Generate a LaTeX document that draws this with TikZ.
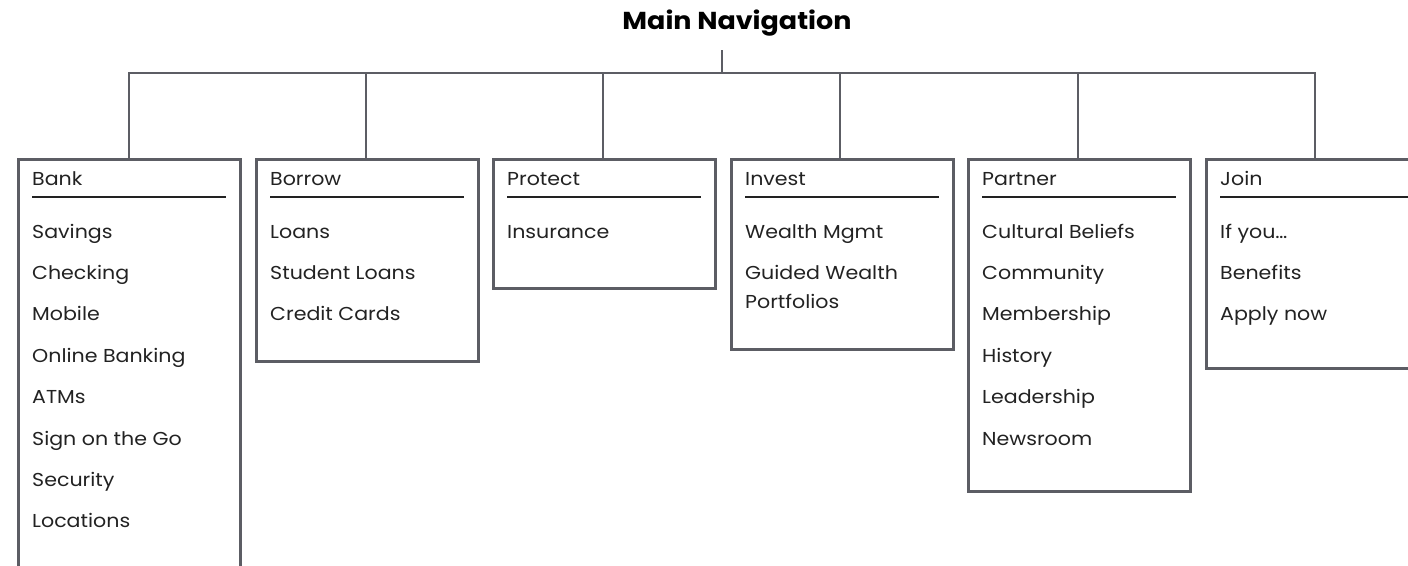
\documentclass[tikz,border=0pt]{standalone}
\usepackage{fontspec}
\setmainfont[FakeStretch=1.1]{Poppins}
\definecolor{linegray}{RGB}{92,93,100}
\definecolor{txt}{RGB}{34,34,34}
\tikzset{
  conn/.style={draw=linegray,line width=2.8pt},
  menubox/.style={draw=linegray,line width=2.8pt,rectangle,minimum width=222pt,anchor=north west,inner sep=0pt},
  head/.style={anchor=base west,inner sep=0pt,font=\fontsize{18.7}{21}\selectfont,text=txt},
  item/.style={anchor=base west,inner sep=0pt,font=\fontsize{18.7}{21}\selectfont,text=txt},
  hrule/.style={draw=txt,line width=1.4pt},
  title/.style={inner sep=0pt,font=\fontsize{24.5}{28}\selectfont\bfseries,text=black}
}
\newcommand\menucol[5]{%
  \node[menubox,minimum height=#4pt] (#1) at (#2,158) {};
  \node[head] (#1-head) at (#2+15,185) {#3};
  \draw[hrule] (#2+15,197) -- (#2+209,197);
  \foreach \t [count=\i] in {#5} {\node[item] (#1-\i) at (#2+15,{238+41.4*(\i-1)}) {\t};}
}
\begin{document}
\begin{tikzpicture}[x=1pt,y=-1pt]
\useasboundingbox (0,0) rectangle (1408,565);
\clip (0,0) rectangle (1408,565);
\node[title] (title) at (737,23) {Main Navigation};
\coordinate (stemtop) at (722,50);
\coordinate (hub) at (722,73);
\coordinate (barbank) at (129,73);
\coordinate (barborrow) at (366,73);
\coordinate (barprotect) at (603,73);
\coordinate (barinvest) at (840,73);
\coordinate (barpartner) at (1078,73);
\coordinate (barjoin) at (1315,73);
\menucol{bank}{17}{Bank}{700}{Savings,Checking,Mobile,Online Banking,ATMs,Sign on the Go,Security,Locations}
\menucol{borrow}{255}{Borrow}{202}{Loans,Student Loans,Credit Cards}
\menucol{protect}{492}{Protect}{129}{Insurance}
\menucol{invest}{730}{Invest}{190}{Wealth Mgmt,Guided Wealth}
\node[item] (invest-3) at (745,{238+41.4+29}) {Portfolios};
\menucol{partner}{967}{Partner}{332}{Cultural Beliefs,Community,Membership,History,Leadership,Newsroom}
\menucol{join}{1205}{Join}{209}{If you…,Benefits,Apply now}
\draw[conn] (stemtop) -- (hub);
\draw[conn,line cap=rect] (barbank) -- (barjoin);
\foreach \n in {bank,borrow,protect,invest,partner,join}
  \draw[conn] (bar\n) -- (bar\n |- \n.north);
\end{tikzpicture}
\end{document}
